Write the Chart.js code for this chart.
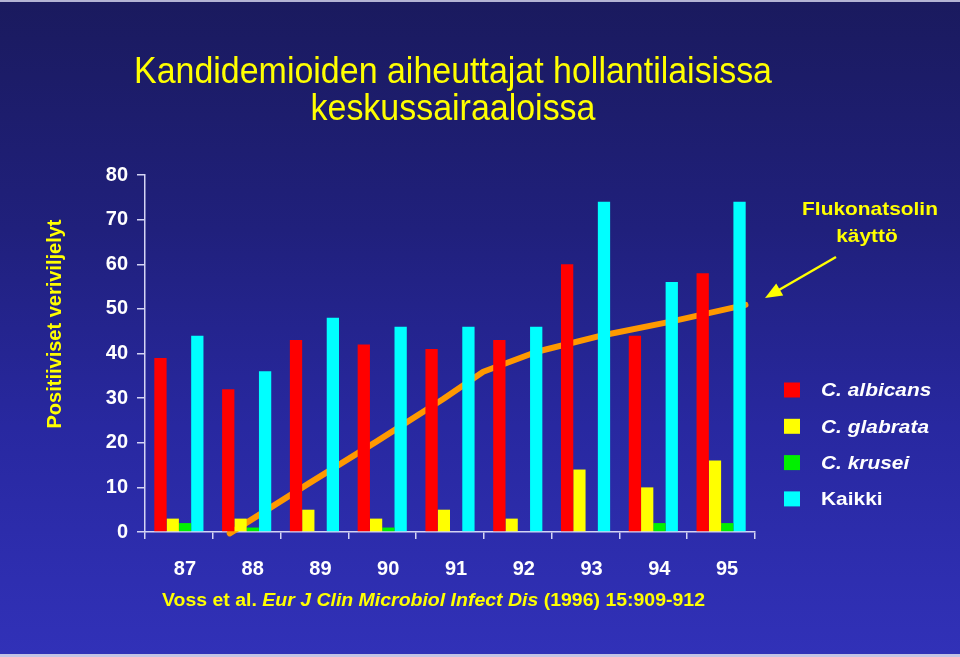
<!DOCTYPE html>
<html>
<head>
<meta charset="utf-8">
<script src="https://cdn.jsdelivr.net/npm/chart.js@4/dist/chart.umd.min.js"></script>
<style>
html, body { margin: 0; padding: 0; }
body {
    width: 960px; height: 657px; overflow: hidden;
    background: linear-gradient(180deg, #1a1a5e 0%, #20207c 35%, #2828a0 65%, #3131b8 100%);
    box-shadow: inset 0 2px 0 #b4b4d4, inset 0 -3px 0 #c4c4e4;
}
canvas { display: block; }
</style>
</head>
<body>
<canvas id="chart" width="960" height="657"></canvas>
<script>
// data
const years = ['87', '88', '89', '90', '91', '92', '93', '94', '95'];
const albicans = [39, 32, 43, 42, 41, 43, 60, 44, 58];
const glabrata = [3, 3, 5, 3, 5, 3, 14, 10, 16];
const krusei = [2, 1, 0, 1, 0, 0, 0, 2, 2];
const kaikki = [44, 36, 48, 46, 46, 46, 74, 56, 74];
// fluconazole use curve (year position, value on the same y scale)
const flukYears = [87.75, 88.93, 89.92, 90.9, 91.49, 92.28, 93.26, 94.24, 95.36];
const flukUse = [-0.3, 11.0, 20.3, 29.8, 35.9, 40.4, 44.1, 47.1, 50.9];

const titleLines = ['Kandidemioiden aiheuttajat hollantilaisissa', 'keskussairaaloissa'];
const yTitle = 'Positiiviset veriviljelyt';
const noteLines = ['Flukonatsolin', 'käyttö'];
const citeParts = [
    { text: 'Voss et al. ', italic: false },
    { text: 'Eur J Clin Microbiol Infect Dis', italic: true },
    { text: ' (1996) 15:909-912', italic: false }
];

const YELLOW = '#ffff00';
const AXIS = '#d4d4f4';
const FAMILY = '"Liberation Sans", Arial, Helvetica, sans-serif';

function hasFont(name){
    var c = document.createElement('canvas').getContext('2d');
    c.font = '40px monospace';
    var a = c.measureText('abcdefghijKLMNOP').width;
    c.font = '40px "' + name + '", monospace';
    return c.measureText('abcdefghijKLMNOP').width !== a;
}
const NARROW = hasFont('Liberation Sans Narrow') ? '"Liberation Sans Narrow", ' + FAMILY : FAMILY;

function stretchText(ctx, text, x, y, sx){
    ctx.save();
    ctx.translate(x, y);
    ctx.scale(sx, 1);
    ctx.fillText(text, 0, 0);
    ctx.restore();
}

const deco = {
    id: 'deco',
    afterDraw(chart){
        var ctx = chart.ctx;
        ctx.save();
        ctx.fillStyle = YELLOW;
        ctx.textBaseline = 'alphabetic';

        // main title
        ctx.font = '37px ' + NARROW;
        ctx.textAlign = 'center';
        var sx = 638 / ctx.measureText(titleLines[0]).width;
        stretchText(ctx, titleLines[0], 453, 83, sx);
        stretchText(ctx, titleLines[1], 453, 120, sx);

        // y axis title
        ctx.save();
        ctx.translate(55, 324);
        ctx.rotate(-Math.PI / 2);
        ctx.font = 'bold 20px ' + FAMILY;
        ctx.textAlign = 'center';
        ctx.textBaseline = 'middle';
        ctx.fillText(yTitle, 0, 0);
        ctx.restore();

        // note + arrow
        ctx.font = 'bold 19px ' + FAMILY;
        ctx.textAlign = 'center';
        ctx.textBaseline = 'middle';
        stretchText(ctx, noteLines[0], 870, 210, 1.1);
        stretchText(ctx, noteLines[1], 867, 237, 1.1);
        ctx.strokeStyle = YELLOW;
        ctx.lineWidth = 2.5;
        var x1 = 836, y1 = 257, x2 = 765, y2 = 298;
        var ang = Math.atan2(y2 - y1, x2 - x1);
        ctx.beginPath();
        ctx.moveTo(x1, y1);
        ctx.lineTo(x2 - 12 * Math.cos(ang), y2 - 12 * Math.sin(ang));
        ctx.stroke();
        ctx.beginPath();
        ctx.moveTo(x2, y2);
        ctx.lineTo(x2 - 17 * Math.cos(ang) + 7 * Math.sin(ang), y2 - 17 * Math.sin(ang) - 7 * Math.cos(ang));
        ctx.lineTo(x2 - 17 * Math.cos(ang) - 7 * Math.sin(ang), y2 - 17 * Math.sin(ang) + 7 * Math.cos(ang));
        ctx.closePath();
        ctx.fill();

        // citation
        ctx.textAlign = 'left';
        ctx.textBaseline = 'middle';
        var total = 0;
        citeParts.forEach(p => {
            ctx.font = (p.italic ? 'italic ' : '') + 'bold 18px ' + FAMILY;
            total += ctx.measureText(p.text).width;
        });
        var csx = 543 / total;
        var cx = 162;
        citeParts.forEach(p => {
            ctx.font = (p.italic ? 'italic ' : '') + 'bold 18px ' + FAMILY;
            stretchText(ctx, p.text, cx, 601, csx);
            cx += ctx.measureText(p.text).width * csx;
        });

        // legend
        var bars = chart.data.datasets.filter(d => d.type !== 'line');
        bars.forEach((d, i) => {
            var cy = 390 + i * 36.3;
            ctx.fillStyle = d.backgroundColor;
            ctx.fillRect(784, cy - 7.5, 16, 15);
            ctx.fillStyle = '#ffffff';
            ctx.font = (d.label.indexOf('C.') === 0 ? 'italic ' : '') + 'bold 19px ' + FAMILY;
            stretchText(ctx, d.label, 821, cy + 1, 1.1);
        });
        ctx.restore();
    }
};

Chart.defaults.font.family = FAMILY;

const firstYear = Number(years[0]);
const ctx = document.getElementById('chart').getContext('2d');
const chart = new Chart(ctx, {
    type: 'bar',
    data: {
        labels: years,
        datasets: [
            { label: 'C. albicans', data: albicans, backgroundColor: '#ff0000', order: 1 },
            { label: 'C. glabrata', data: glabrata, backgroundColor: '#ffff00', order: 1 },
            { label: 'C. krusei', data: krusei, backgroundColor: '#00f000', order: 1 },
            { label: 'Kaikki', data: kaikki, backgroundColor: '#00ffff', order: 1 },
            {
                type: 'line',
                label: 'Flukonatsolin käyttö',
                // pre-parsed: x is the fractional category index on the same year axis
                parsing: false,
                data: flukYears.map((yr, i) => ({ x: yr - firstYear, y: flukUse[i] })),
                borderColor: '#ff9900',
                borderWidth: 6,
                borderCapStyle: 'round',
                borderJoinStyle: 'round',
                tension: 0,
                pointRadius: 0,
                clip: false,
                order: 2
            }
        ]
    },
    options: {
        responsive: false,
        animation: false,
        events: [],
        categoryPercentage: 0.725,
        barPercentage: 1.0,
        layout: { padding: { left: 40, top: 175, right: 205, bottom: 0 } },
        plugins: {
            legend: { display: false },
            title: { display: false },
            tooltip: { enabled: false }
        },
        scales: {
            x: {
                type: 'category',
                offset: true,
                afterFit: s => { s.height = 125; },
                grid: { offset: true, drawOnChartArea: false, color: AXIS, lineWidth: 1.5, tickLength: 7 },
                border: { color: AXIS, width: 1.5 },
                ticks: { color: '#ffffff', font: { size: 20, weight: 'bold' }, padding: 18, labelOffset: 6, maxRotation: 0 }
            },
            y: {
                min: 0,
                max: 80,
                afterFit: s => { s.width = 105; },
                grid: { drawOnChartArea: false, color: AXIS, lineWidth: 1.5, tickLength: 8 },
                border: { color: AXIS, width: 1.5 },
                ticks: { stepSize: 10, color: '#ffffff', font: { size: 20, weight: 'bold' }, padding: 9 }
            }
        }
    },
    plugins: [deco]
});
</script>
</body>
</html>
